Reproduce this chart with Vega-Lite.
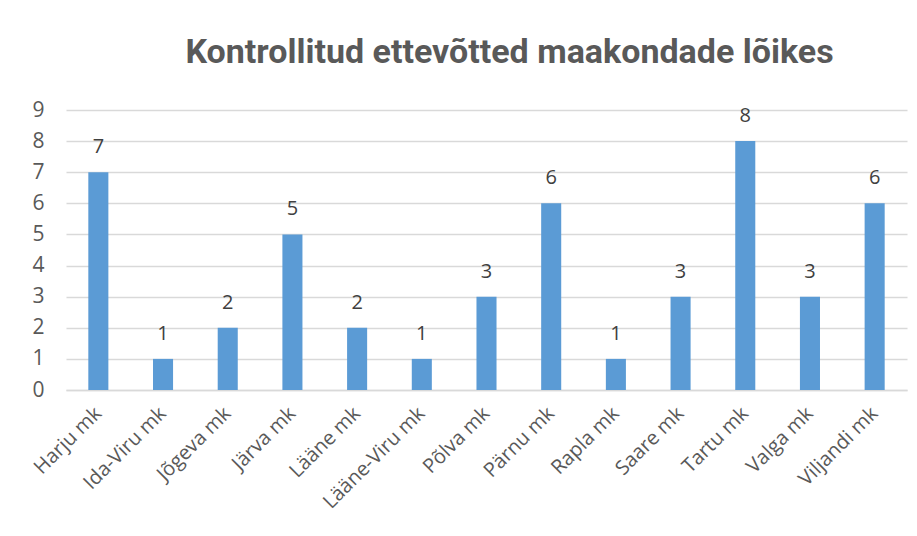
{
  "$schema": "https://vega.github.io/schema/vega-lite/v6.json",
  "width": 841,
  "height": 280,
  "autosize": {"type": "none"},
  "padding": {"left": 66, "top": 110, "right": 10, "bottom": 146},
  "background": "white",
  "title": {
    "text": "Kontrollitud ettevõtted maakondade lõikes",
    "font": "Roboto",
    "fontSize": 34,
    "fontWeight": "bold",
    "color": "#595959",
    "anchor": "middle",
    "frame": "group",
    "dx": 23,
    "offset": 29
  },
  "data": {
    "values": [
      {"maakond": "Harju mk", "arv": 7},
      {"maakond": "Ida-Viru mk", "arv": 1},
      {"maakond": "Jõgeva mk", "arv": 2},
      {"maakond": "Järva mk", "arv": 5},
      {"maakond": "Lääne mk", "arv": 2},
      {"maakond": "Lääne-Viru mk", "arv": 1},
      {"maakond": "Põlva mk", "arv": 3},
      {"maakond": "Pärnu mk", "arv": 6},
      {"maakond": "Rapla mk", "arv": 1},
      {"maakond": "Saare mk", "arv": 3},
      {"maakond": "Tartu mk", "arv": 8},
      {"maakond": "Valga mk", "arv": 3},
      {"maakond": "Viljandi mk", "arv": 6}
    ]
  },
  "encoding": {
    "x": {
      "field": "maakond",
      "type": "nominal",
      "sort": null,
      "scale": {"paddingInner": 0.69, "paddingOuter": 0.345},
      "axis": {
        "title": null,
        "labelAngle": -45,
        "labelAlign": "right",
        "labelBaseline": "middle",
        "labelFont": "Open Sans",
        "labelFontSize": 20,
        "labelColor": "#595959",
        "labelPadding": 20,
        "labelOverlap": false,
        "labelLimit": 300,
        "ticks": false,
        "domainColor": "#d9d9d9",
        "domainWidth": 1.5
      }
    },
    "y": {
      "field": "arv",
      "type": "quantitative",
      "scale": {"domain": [0, 9], "nice": false},
      "axis": {
        "title": null,
        "values": [0, 1, 2, 3, 4, 5, 6, 7, 8, 9],
        "labelOverlap": false,
        "domain": false,
        "ticks": false,
        "labelFont": "Open Sans",
        "labelFontSize": 21,
        "labelColor": "#595959",
        "labelPadding": 22,
        "gridColor": "#d9d9d9",
        "gridWidth": 1.5
      }
    }
  },
  "layer": [
    {"mark": {"type": "bar", "color": "#5B9BD5"}},
    {
      "mark": {
        "type": "text",
        "font": "Open Sans",
        "fontSize": 20,
        "color": "#404040",
        "baseline": "alphabetic",
        "dy": -19
      },
      "encoding": {"text": {"field": "arv", "type": "quantitative"}}
    }
  ],
  "config": {"view": {"stroke": null}}
}
